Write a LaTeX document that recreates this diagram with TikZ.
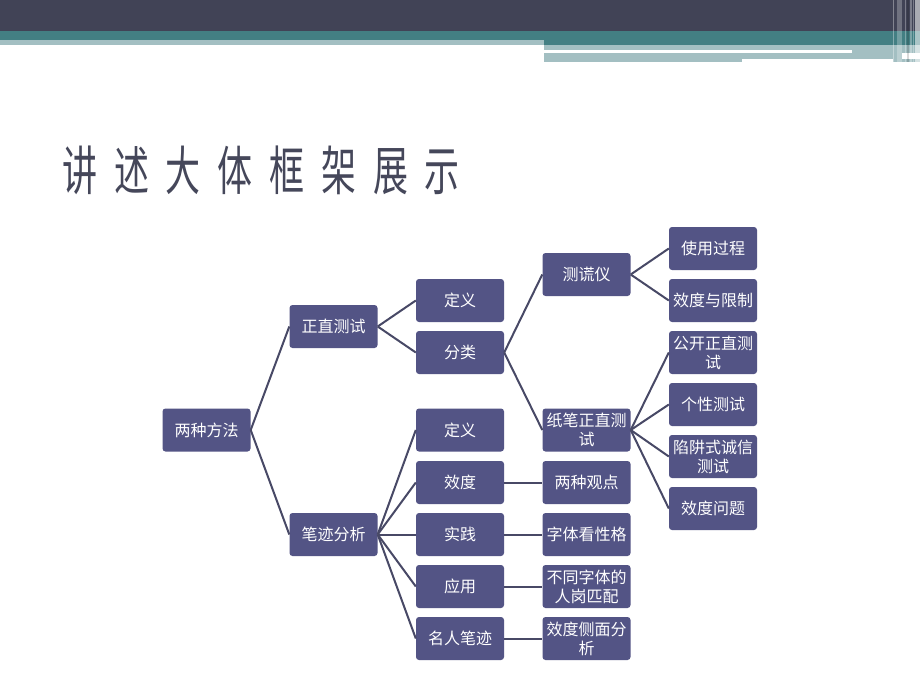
\documentclass[tikz,border=0pt]{standalone}
\usepackage{fontspec}
\newfontfamily\cjk{Noto Sans CJK SC}
\definecolor{hdark}{RGB}{65,67,86}
\definecolor{hteal}{RGB}{67,127,131}
\definecolor{hlight}{RGB}{163,191,194}
\definecolor{nodec}{RGB}{83,84,133}
\definecolor{linec}{RGB}{72,73,102}
\definecolor{titlec}{RGB}{69,71,90}
\tikzset{
  box/.style={fill=nodec, rounded corners=3pt, minimum width=88pt, minimum height=43pt,
    text=white, font=\cjk\fontsize{16}{19}\selectfont, align=center, inner sep=1pt},
  conn/.style={draw=linec, line width=2pt}
}
\begin{document}
\begin{tikzpicture}[x=1pt,y=-1pt]
\useasboundingbox (0,0) rectangle (920,690);
\fill[white] (0,0) rectangle (920,690);
% header bars
\fill[hdark] (0,0) rectangle (920,31);
\fill[hteal] (0,31) rectangle (920,40);
\fill[hteal] (544,40) rectangle (920,45);
\fill[hlight] (0,40) rectangle (544,45);
\fill[hlight] (544,45) rectangle (920,50);
\fill[hlight] (852,50) rectangle (920,52.7);
\fill[hlight] (544,52.7) rectangle (902,59);
\fill[hlight] (544,59) rectangle (742,62);
\fill[hlight] (893,59) rectangle (920,62);
% right vertical stripes
\fill[white,opacity=0.35] (893,0) rectangle (894,62);
\fill[white,opacity=0.25] (896.7,0) rectangle (902.3,62);
\fill[white,opacity=0.3] (905,0) rectangle (906,62);
\fill[black,opacity=0.15] (907.3,0) rectangle (908.7,62);
\fill[white,opacity=0.3] (910,0) rectangle (911.7,62);
\fill[white,opacity=0.3] (912.7,0) rectangle (914,62);
\fill[white,opacity=0.55] (915,0) rectangle (920,62);
% title
\node[anchor=west, inner sep=0pt, text=titlec, font=\cjk\fontsize{53}{60}\selectfont] (title) at (62,170)
  {\scalebox{0.66}[1]{讲\hspace{25.5pt}述\hspace{25.5pt}大\hspace{25.5pt}体\hspace{25.5pt}框\hspace{25.5pt}架\hspace{25.5pt}展\hspace{25.5pt}示}};
% nodes
\node[box] (root) at (206.5,430) {两种方法};
\node[box] (zz) at (333.5,326.5) {正直测试};
\node[box] (bj) at (333.5,534.5) {笔迹分析};
\node[box] (dy1) at (460,300.5) {定义};
\node[box] (fl) at (460,352.5) {分类};
\node[box] (dy2) at (460,430) {定义};
\node[box] (xd) at (460,482.5) {效度};
\node[box] (sj) at (460,534.5) {实践};
\node[box] (yy) at (460,586.5) {应用};
\node[box] (mr) at (460,638.5) {名人笔迹};
\node[box] (chy) at (586.5,274.5) {测谎仪};
\node[box] (zb) at (586.5,430) {纸笔正直测\\试};
\node[box] (lz) at (586.5,482.5) {两种观点};
\node[box] (zt) at (586.5,534.5) {字体看性格};
\node[box] (bt) at (586.5,586.5) {不同字体的\\人岗匹配};
\node[box] (cm) at (586.5,638.5) {效度侧面分\\析};
\node[box] (sy) at (713,248.5) {使用过程};
\node[box] (xx) at (713,300.5) {效度与限制};
\node[box] (gk) at (713,352.5) {公开正直测\\试};
\node[box] (gx) at (713,404.5) {个性测试};
\node[box] (xj) at (713,456.5) {陷阱式诚信\\测试};
\node[box] (xw) at (713,508.5) {效度问题};
% connectors
\foreach \a/\b in {root/zz,root/bj,zz/dy1,zz/fl,fl/chy,fl/zb,chy/sy,chy/xx,zb/gk,zb/gx,zb/xj,zb/xw,
  bj/dy2,bj/xd,bj/sj,bj/yy,bj/mr,xd/lz,sj/zt,yy/bt,mr/cm}
  \draw[conn] (\a.east) -- (\b.west);
\end{tikzpicture}
\end{document}
